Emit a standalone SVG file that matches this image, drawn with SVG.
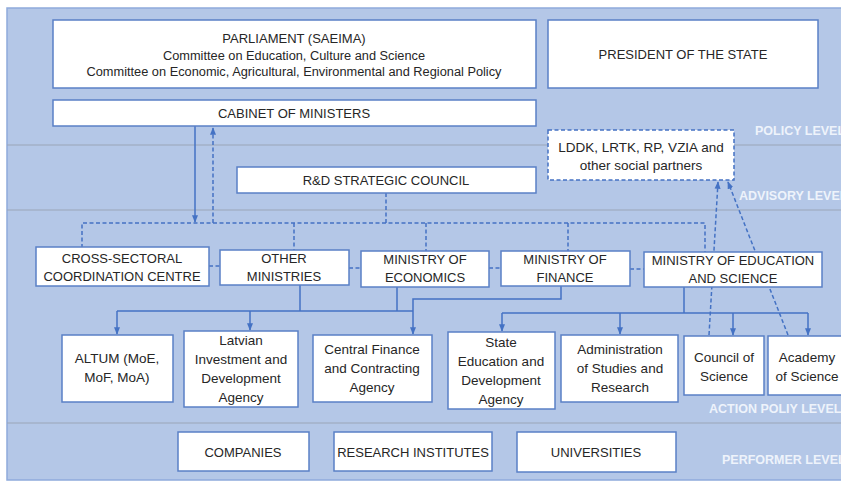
<svg xmlns="http://www.w3.org/2000/svg" width="841" height="482" viewBox="0 0 841 482">
<style>
.box{fill:#fff;stroke:#5a80c6;stroke-width:1.5}
.dbox{fill:#fff;stroke:#4472c4;stroke-width:1.5;stroke-dasharray:4 2.5}
.t{font-family:"Liberation Sans",Arial,sans-serif;font-size:13px;fill:#262626;text-anchor:middle}
.m{font-size:13.5px}
.s{font-size:12px}
.lvl{font-family:"Liberation Sans",Arial,sans-serif;font-size:12.5px;font-weight:bold;fill:#eef3fb}
.sol{fill:none;stroke:#4472c4;stroke-width:1.5}
.das{fill:none;stroke:#4472c4;stroke-width:1.5;stroke-dasharray:4 2.5}
.sep{stroke:#9aa6b8;stroke-width:1.2}
</style>
<defs>
<marker id="ah" viewBox="0 0 10 10" refX="9" refY="5" markerWidth="5" markerHeight="5" orient="auto">
<path d="M0,1 L10,5 L0,9 z" fill="#4472c4"/>
</marker>
</defs>
<rect x="7" y="8" width="840" height="472" fill="#b4c7e7" stroke="#8faadc" stroke-width="1.5"/>
<g id="separators">
<line class="sep" x1="7" y1="145" x2="841" y2="145"/>
<line class="sep" x1="7" y1="210" x2="841" y2="210"/>
<line class="sep" x1="7" y1="423" x2="841" y2="423"/>
</g>
<g id="levels">
<text class="lvl" x="755" y="135">POLICY LEVEL</text>
<text class="lvl" x="739" y="200">ADVISORY LEVEL</text>
<text class="lvl" x="709" y="413">ACTION POLIY LEVEL</text>
<text class="lvl" x="722" y="464">PERFORMER LEVEL</text>
</g>
<g id="connectors">
<line class="sol" x1="195" y1="126" x2="195" y2="222" marker-end="url(#ah)"/>
<line class="das" x1="213" y1="223" x2="213" y2="128" marker-end="url(#ah)"/>
<polyline class="das" points="82,248 82,223 705,223 705,252"/>
<line class="das" x1="386" y1="193" x2="386" y2="223"/>
<line class="das" x1="294" y1="223" x2="294" y2="250"/>
<line class="das" x1="426" y1="223" x2="426" y2="251"/>
<line class="das" x1="568" y1="223" x2="568" y2="251"/>
<line class="das" x1="209" y1="266" x2="220" y2="266"/>
<line class="das" x1="349" y1="268" x2="361" y2="268"/>
<line class="das" x1="489" y1="268" x2="501" y2="268"/>
<line class="das" x1="630" y1="269" x2="644" y2="269"/>
<line class="das" x1="709" y1="335" x2="718" y2="182" marker-end="url(#ah)"/>
<line class="das" x1="788" y1="335" x2="728" y2="182" marker-end="url(#ah)"/>
<line class="sol" x1="300" y1="285" x2="300" y2="311"/>
<line class="sol" x1="397" y1="287" x2="397" y2="311"/>
<line class="sol" x1="117" y1="311" x2="413" y2="311"/>
<line class="sol" x1="117" y1="311" x2="117" y2="334" marker-end="url(#ah)"/>
<line class="sol" x1="250" y1="311" x2="250" y2="330" marker-end="url(#ah)"/>
<polyline class="sol" points="561,286 561,299 413,299 413,334" marker-end="url(#ah)"/>
<line class="sol" x1="684" y1="287" x2="684" y2="313"/>
<line class="sol" x1="502" y1="313" x2="808" y2="313"/>
<line class="sol" x1="502" y1="313" x2="502" y2="331" marker-end="url(#ah)"/>
<line class="sol" x1="620" y1="313" x2="620" y2="334" marker-end="url(#ah)"/>
<line class="sol" x1="733" y1="313" x2="733" y2="335" marker-end="url(#ah)"/>
<line class="sol" x1="808" y1="313" x2="808" y2="335" marker-end="url(#ah)"/>
</g>
<g id="parliament">
<rect class="box" x="53" y="20" width="483" height="68"/>
<text class="t" x="294" y="43">PARLIAMENT (SAEIMA)</text>
<text class="t s" x="294" y="60" textLength="262" lengthAdjust="spacingAndGlyphs">Committee on Education, Culture and Science</text>
<text class="t s" x="294" y="76" textLength="415" lengthAdjust="spacingAndGlyphs">Committee on Economic, Agricultural, Environmental and Regional Policy</text>
</g>
<g id="president">
<rect class="box" x="548" y="20" width="270" height="68"/>
<text class="t" x="683" y="59">PRESIDENT OF THE STATE</text>
</g>
<g id="cabinet">
<rect class="box" x="53" y="100" width="483" height="26"/>
<text class="t" x="294" y="118">CABINET OF MINISTERS</text>
</g>
<g id="rd-council">
<rect class="box" x="237" y="167" width="299" height="26"/>
<text class="t" x="386" y="185">R&amp;D STRATEGIC COUNCIL</text>
</g>
<g id="social-partners">
<rect class="dbox" x="548" y="130" width="186" height="50"/>
<text class="t m" x="641" y="152">LDDK, LRTK, RP, VZIA and</text>
<text class="t m" x="641" y="170">other social partners</text>
</g>
<g id="cross-sectoral">
<rect class="box" x="36" y="247" width="173" height="39"/>
<text class="t" x="122" y="263">CROSS-SECTORAL</text>
<text class="t" x="122" y="281">COORDINATION CENTRE</text>
</g>
<g id="other-ministries">
<rect class="box" x="220" y="250" width="129" height="35"/>
<text class="t" x="284" y="263">OTHER</text>
<text class="t" x="284" y="281">MINISTRIES</text>
</g>
<g id="economics">
<rect class="box" x="361" y="251" width="128" height="36"/>
<text class="t" x="425" y="264">MINISTRY OF</text>
<text class="t" x="425" y="282">ECONOMICS</text>
</g>
<g id="finance">
<rect class="box" x="501" y="251" width="129" height="35"/>
<text class="t" x="565" y="264">MINISTRY OF</text>
<text class="t" x="565" y="282">FINANCE</text>
</g>
<g id="education">
<rect class="box" x="644" y="252" width="178" height="35"/>
<text class="t" x="733" y="265">MINISTRY OF EDUCATION</text>
<text class="t" x="733" y="283">AND SCIENCE</text>
</g>
<g id="altum">
<rect class="box" x="62" y="335" width="111" height="67"/>
<text class="t m" x="117" y="363">ALTUM (MoE,</text>
<text class="t m" x="117" y="382">MoF, MoA)</text>
</g>
<g id="liaa">
<rect class="box" x="184" y="331" width="114" height="76"/>
<text class="t m" x="241" y="345">Latvian</text>
<text class="t m" x="241" y="364">Investment and</text>
<text class="t m" x="241" y="383">Development</text>
<text class="t m" x="241" y="402">Agency</text>
</g>
<g id="cfca">
<rect class="box" x="313" y="335" width="119" height="67"/>
<text class="t m" x="372" y="354">Central Finance</text>
<text class="t m" x="372" y="373">and Contracting</text>
<text class="t m" x="372" y="392">Agency</text>
</g>
<g id="viaa">
<rect class="box" x="448" y="332" width="107" height="77"/>
<text class="t m" x="501" y="347">State</text>
<text class="t m" x="501" y="366">Education and</text>
<text class="t m" x="501" y="385">Development</text>
<text class="t m" x="501" y="404">Agency</text>
</g>
<g id="administration">
<rect class="box" x="561" y="335" width="117" height="67"/>
<text class="t m" x="620" y="354">Administration</text>
<text class="t m" x="620" y="373">of Studies and</text>
<text class="t m" x="620" y="392">Research</text>
</g>
<g id="council-of-science">
<rect class="box" x="684" y="336" width="80" height="59"/>
<text class="t m" x="724" y="362">Council of</text>
<text class="t m" x="724" y="381">Science</text>
</g>
<g id="academy">
<rect class="box" x="768" y="336" width="80" height="59"/>
<text class="t m" x="807" y="362">Academy</text>
<text class="t m" x="807" y="381">of Science</text>
</g>
<g id="companies">
<rect class="box" x="178" y="432" width="131" height="39"/>
<text class="t" x="243" y="457">COMPANIES</text>
</g>
<g id="research-institutes">
<rect class="box" x="334" y="432" width="158" height="39"/>
<text class="t" x="413" y="457">RESEARCH INSTITUTES</text>
</g>
<g id="universities">
<rect class="box" x="517" y="432" width="159" height="40"/>
<text class="t" x="596" y="457">UNIVERSITIES</text>
</g>
</svg>
